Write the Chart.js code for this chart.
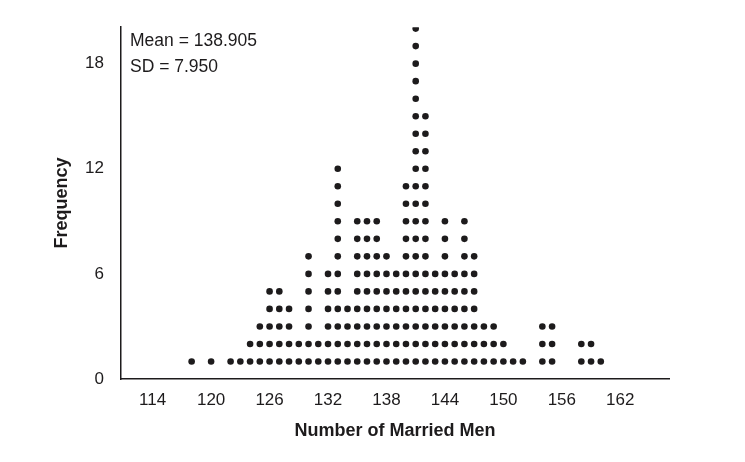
<!DOCTYPE html>
<html>
<head>
<meta charset="utf-8">
<script src="https://cdn.jsdelivr.net/npm/chart.js@4/dist/chart.umd.min.js"></script>
<style>
  html, body { margin: 0; padding: 0; background: #fff; }
  #wrap { width: 745px; height: 462px; position: relative; }
</style>
</head>
<body>
<div id="wrap"><canvas id="dotChart"></canvas></div>
<script>
// values of the number of married men, and how many dots stack on each
const menValues = [118, 120, 122, 123, 124, 125, 126, 127, 128, 129, 130, 131, 132, 133, 134,
  135, 136, 137, 138, 139, 140, 141, 142, 143, 144, 145, 146, 147, 148, 149, 150, 151, 152,
  154, 155, 158, 159, 160];
const frequencies = [1, 1, 1, 1, 2, 3, 5, 5, 4, 2, 7, 2, 6, 12, 4,
  9, 9, 9, 7, 6, 11, 20, 15, 6, 9, 6, 9, 7, 3, 3, 2, 1, 1,
  3, 3, 2, 2, 1];
const xTicks = [114, 120, 126, 132, 138, 144, 150, 156, 162];
const yTicks = [0, 6, 12, 18];
const statLines = ["Mean = 138.905", "SD = 7.950"];

const ink = "#1d1b1c";

// one point per dot, stacked 1..n
const dots = [];
menValues.forEach((v, i) => {
  for (let k = 1; k <= frequencies[i]; k++) {
    dots.push({ x: v, y: k });
  }
});

const statsText = {
  id: "statsText",
  afterDraw(chart) {
    const { ctx, chartArea } = chart;
    ctx.save();
    ctx.fillStyle = ink;
    ctx.font = "17.5px 'Liberation Sans', Arial, sans-serif";
    ctx.textBaseline = "middle";
    ctx.textAlign = "left";
    statLines.forEach((t, i) => {
      ctx.fillText(t, chartArea.left + 9, chartArea.top + 14 + i * 26);
    });
    ctx.restore();
  },
};

const dotCtx = document.getElementById("dotChart").getContext("2d");
const dotChart = new Chart(dotCtx, {
  type: "scatter",
  data: {
    datasets: [
      {
        data: dots,
        backgroundColor: ink,
        borderWidth: 0,
        pointRadius: 3.3,
        pointHoverRadius: 3.3,
      },
    ],
  },
  options: {
    responsive: true,
    maintainAspectRatio: false,
    animation: false,
    events: [],
    layout: {
      padding: { top: 27, right: 76, left: 0, bottom: 0 },
    },
    plugins: {
      legend: { display: false },
      tooltip: { enabled: false },
    },
    scales: {
      x: {
        type: "linear",
        min: 110.75,
        max: 167.0,
        afterBuildTicks(scale) {
          scale.ticks = xTicks.map((v) => ({ value: v }));
        },
        afterFit(scale) {
          scale.height = 83;
        },
        grid: { display: false, drawTicks: false },
        border: { display: true, color: ink, width: 1.5 },
        ticks: {
          color: ink,
          padding: 11,
          maxRotation: 0,
          font: { family: "'Liberation Sans', Arial, sans-serif", size: 17 },
        },
        title: {
          display: true,
          text: "Number of Married Men",
          color: ink,
          padding: { top: 0, bottom: 20 },
          font: { family: "'Liberation Sans', Arial, sans-serif", size: 18, weight: "bold" },
        },
      },
      y: {
        min: 0,
        max: 20.08,
        afterBuildTicks(scale) {
          scale.ticks = yTicks.map((v) => ({ value: v }));
        },
        afterFit(scale) {
          scale.width = 121;
        },
        grid: { display: false, drawTicks: false },
        border: { display: true, color: ink, width: 1.5 },
        ticks: {
          color: ink,
          padding: 17,
          font: { family: "'Liberation Sans', Arial, sans-serif", size: 17 },
        },
        title: {
          display: true,
          text: "Frequency",
          color: ink,
          padding: { top: 51, bottom: 0 },
          font: { family: "'Liberation Sans', Arial, sans-serif", size: 18, weight: "bold" },
        },
      },
    },
  },
  plugins: [statsText],
});
</script>
</body>
</html>
